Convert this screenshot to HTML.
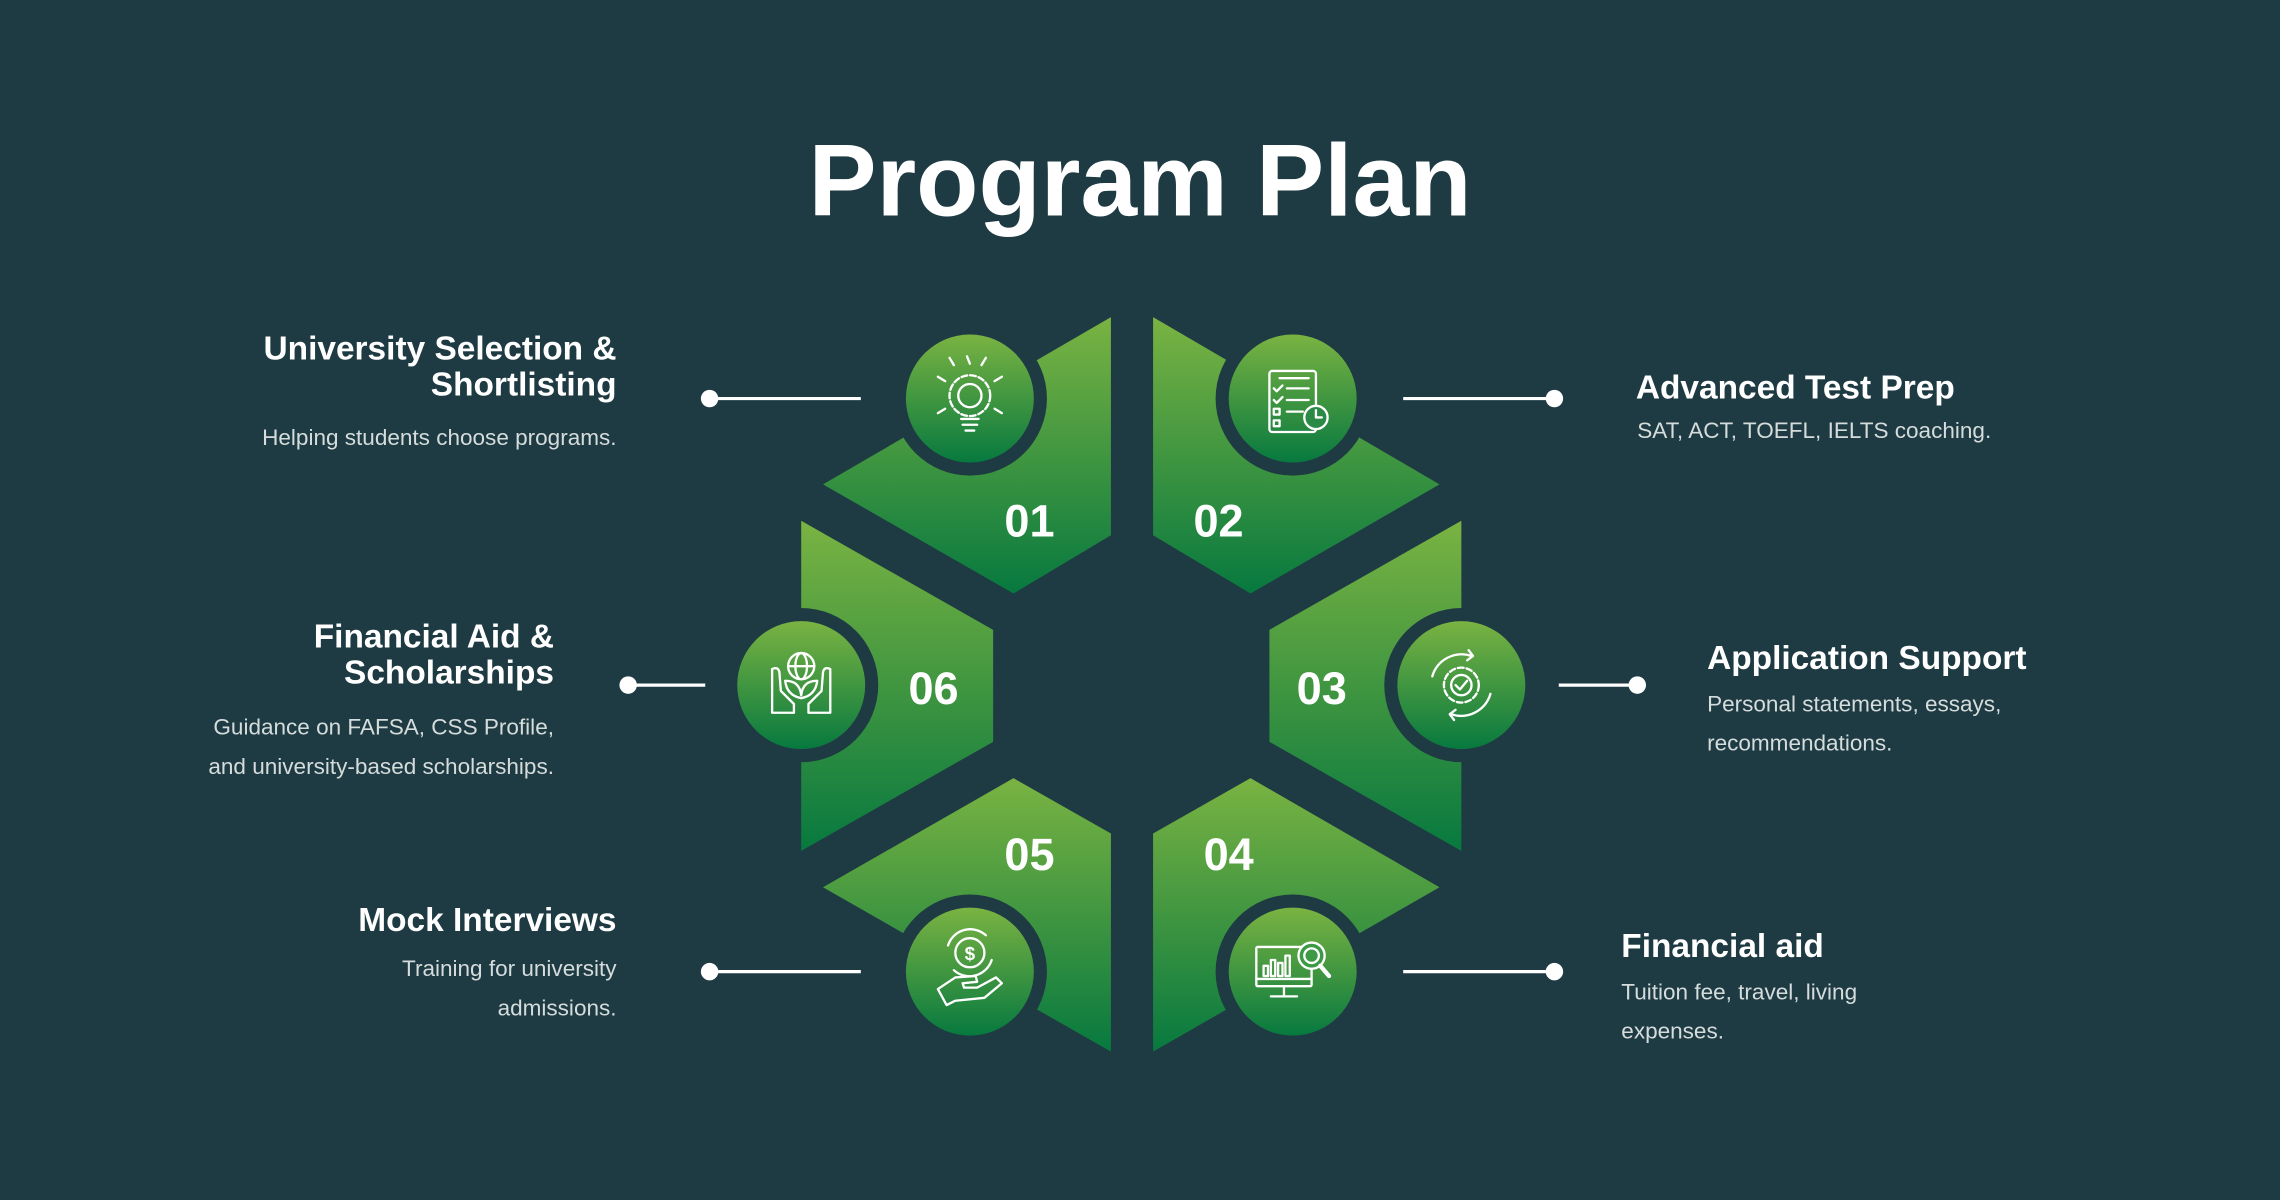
<!DOCTYPE html>
<html><head><meta charset="utf-8"><style>
html,body{margin:0;padding:0;background:#1e3a42;}
svg{display:block}
text{font-family:"Liberation Sans",sans-serif;}
</style></head><body>
<svg width="2280" height="1200" viewBox="0 0 1568 825" preserveAspectRatio="none" xmlns="http://www.w3.org/2000/svg">
<defs>
<linearGradient id="g" x1="0" y1="0" x2="0" y2="1"><stop offset="0" stop-color="#7ab342"/><stop offset="1" stop-color="#07793f"/></linearGradient>
</defs>
<rect width="1568" height="825" fill="#1e3a42"/>
<text x="784" y="148" text-anchor="middle" font-size="70" font-weight="bold" fill="#fff" textLength="456" lengthAdjust="spacingAndGlyphs">Program Plan</text>

<polygon points="764,218 764,368 697,408 566,333" fill="url(#g)"/>
<polygon points="793,218 793,368 860,408 990,333" fill="url(#g)"/>
<polygon points="1005,358 1005,585 873,510 873,433" fill="url(#g)"/>
<polygon points="551,358 551,585 683,510 683,433" fill="url(#g)"/>
<polygon points="764,723 764,573 697,535 566,610" fill="url(#g)"/>
<polygon points="793,723 793,573 860,535 990,610" fill="url(#g)"/>

<g fill="#1e3a42">
<circle cx="667" cy="274" r="53"/><circle cx="889" cy="274" r="53"/>
<circle cx="1005" cy="471" r="53"/><circle cx="551" cy="471" r="53"/>
<circle cx="667" cy="668" r="53"/><circle cx="889" cy="668" r="53"/>
</g>
<g fill="url(#g)">
<circle cx="667" cy="274" r="44"/><circle cx="889" cy="274" r="44"/>
<circle cx="1005" cy="471" r="44"/><circle cx="551" cy="471" r="44"/>
<circle cx="667" cy="668" r="44"/><circle cx="889" cy="668" r="44"/>
</g>

<g fill="none" stroke="#fff" stroke-width="1.6" stroke-linecap="round" stroke-linejoin="round">
 <circle cx="667" cy="272" r="14" stroke-dasharray="4 2"/><circle cx="667" cy="272" r="8"/>
 <line x1="661" y1="288" x2="673" y2="288"/><line x1="662" y1="292" x2="672" y2="292"/><line x1="664" y1="296" x2="670" y2="296"/>
 <line x1="667" y1="250" x2="665" y2="245"/><line x1="675" y1="251" x2="678" y2="246"/><line x1="656" y1="251" x2="653" y2="246"/>
 <line x1="684" y1="262" x2="689" y2="259"/><line x1="650" y1="262" x2="645" y2="259"/>
 <line x1="684" y1="281" x2="689" y2="284"/><line x1="650" y1="281" x2="645" y2="284"/>
 <rect x="873" y="255" width="32" height="42" rx="2"/>
 <line x1="880" y1="260" x2="900" y2="260"/>
 <polyline points="876,267 878,269 882,265"/><line x1="885" y1="267" x2="900" y2="267"/>
 <polyline points="876,275 878,277 882,273"/><line x1="885" y1="275" x2="900" y2="275"/>
 <rect x="876" y="281" width="4" height="4"/><line x1="885" y1="283" x2="896" y2="283"/>
 <rect x="876" y="289" width="4" height="4"/>
 <circle cx="905" cy="287" r="8" fill="#2a8a45"/><polyline points="905,282 905,287 909,287"/>
 <circle cx="1005" cy="471" r="12" stroke-dasharray="4 2"/><circle cx="1005" cy="471" r="7"/>
 <polyline points="1001,471 1004,474 1009,468"/>
 <path d="M985 465 A21 21 0 0 1 1012 451"/><path d="M1025 477 A21 21 0 0 1 998 491"/>
 <polyline points="1010,447 1013,451 1009,454"/><polyline points="1000,495 997,491 1001,488"/>
 <circle cx="551" cy="458" r="9"/><line x1="542" y1="458" x2="560" y2="458"/><ellipse cx="551" cy="458" rx="4" ry="9"/>
 <path d="M531 490 L531 460 Q535 458 536 462 L537 475 L546 484 L546 490 Z"/>
 <path d="M571 490 L571 460 Q567 458 566 462 L565 475 L556 484 L556 490 Z"/>
 <path d="M551 480 Q541 478 540 468 Q550 468 551 478 Q552 468 562 468 Q561 478 551 480"/>
 <circle cx="667" cy="655" r="10"/><text x="667" y="660" text-anchor="middle" font-size="13" fill="#fff" stroke="none" font-weight="bold">$</text>
 <path d="M652 650 A16 16 0 0 1 678 643"/><path d="M682 660 A16 16 0 0 1 656 667"/>
 <path d="M645 680 L651 691 L657 688 L677 686 L689 676 L685 672 L672 679 L663 679 L662 676 L672 675 L671 671 L657 672 Z"/>
 <rect x="864" y="651" width="38" height="27" rx="1"/><line x1="864" y1="673" x2="902" y2="673"/>
 <line x1="883" y1="678" x2="883" y2="684"/><line x1="874" y1="685" x2="892" y2="685"/>
 <rect x="869" y="664" width="3" height="7"/><rect x="874" y="660" width="3" height="11"/><rect x="879" y="662" width="3" height="9"/><rect x="884" y="657" width="3" height="14"/>
 <circle cx="902" cy="657" r="9" fill="#3c9a45"/><circle cx="902" cy="657" r="5"/><line x1="908" y1="664" x2="914" y2="671" stroke-width="3"/>
</g>

<g font-size="31" font-weight="bold" fill="#fff" text-anchor="middle">
<text x="708" y="369">01</text><text x="838" y="369">02</text>
<text x="909" y="484">03</text><text x="642" y="484">06</text>
<text x="708" y="598">05</text><text x="845" y="598">04</text>
</g>

<g stroke="#fff" stroke-width="2.2">
<line x1="488" y1="274" x2="592" y2="274"/><line x1="965" y1="274" x2="1069" y2="274"/>
<line x1="432" y1="471" x2="485" y2="471"/><line x1="1072" y1="471" x2="1126" y2="471"/>
<line x1="488" y1="668" x2="592" y2="668"/><line x1="965" y1="668" x2="1069" y2="668"/>
</g>
<g fill="#fff">
<circle cx="488" cy="274" r="6"/><circle cx="1069" cy="274" r="6"/>
<circle cx="432" cy="471" r="6"/><circle cx="1126" cy="471" r="6"/>
<circle cx="488" cy="668" r="6"/><circle cx="1069" cy="668" r="6"/>
</g>

<g fill="#fff" font-weight="bold" font-size="23">
<text x="424" y="247" text-anchor="end">University Selection &amp;</text>
<text x="424" y="272" text-anchor="end">Shortlisting</text>
<text x="1125" y="274">Advanced Test Prep</text>
<text x="381" y="445" text-anchor="end">Financial Aid &amp;</text>
<text x="381" y="470" text-anchor="end">Scholarships</text>
<text x="1174" y="460">Application Support</text>
<text x="424" y="640" text-anchor="end">Mock Interviews</text>
<text x="1115" y="658">Financial aid</text>
</g>
<g fill="#d5dcdc" font-size="15.5">
<text x="424" y="306" text-anchor="end">Helping students choose programs.</text>
<text x="1126" y="301">SAT, ACT, TOEFL, IELTS coaching.</text>
<text x="381" y="505" text-anchor="end">Guidance on FAFSA, CSS Profile,</text>
<text x="381" y="532" text-anchor="end">and university-based scholarships.</text>
<text x="1174" y="489">Personal statements, essays,</text>
<text x="1174" y="516">recommendations.</text>
<text x="424" y="671" text-anchor="end">Training for university</text>
<text x="424" y="698" text-anchor="end">admissions.</text>
<text x="1115" y="687">Tuition fee, travel, living</text>
<text x="1115" y="714">expenses.</text>
</g>
</svg>
</body></html>
